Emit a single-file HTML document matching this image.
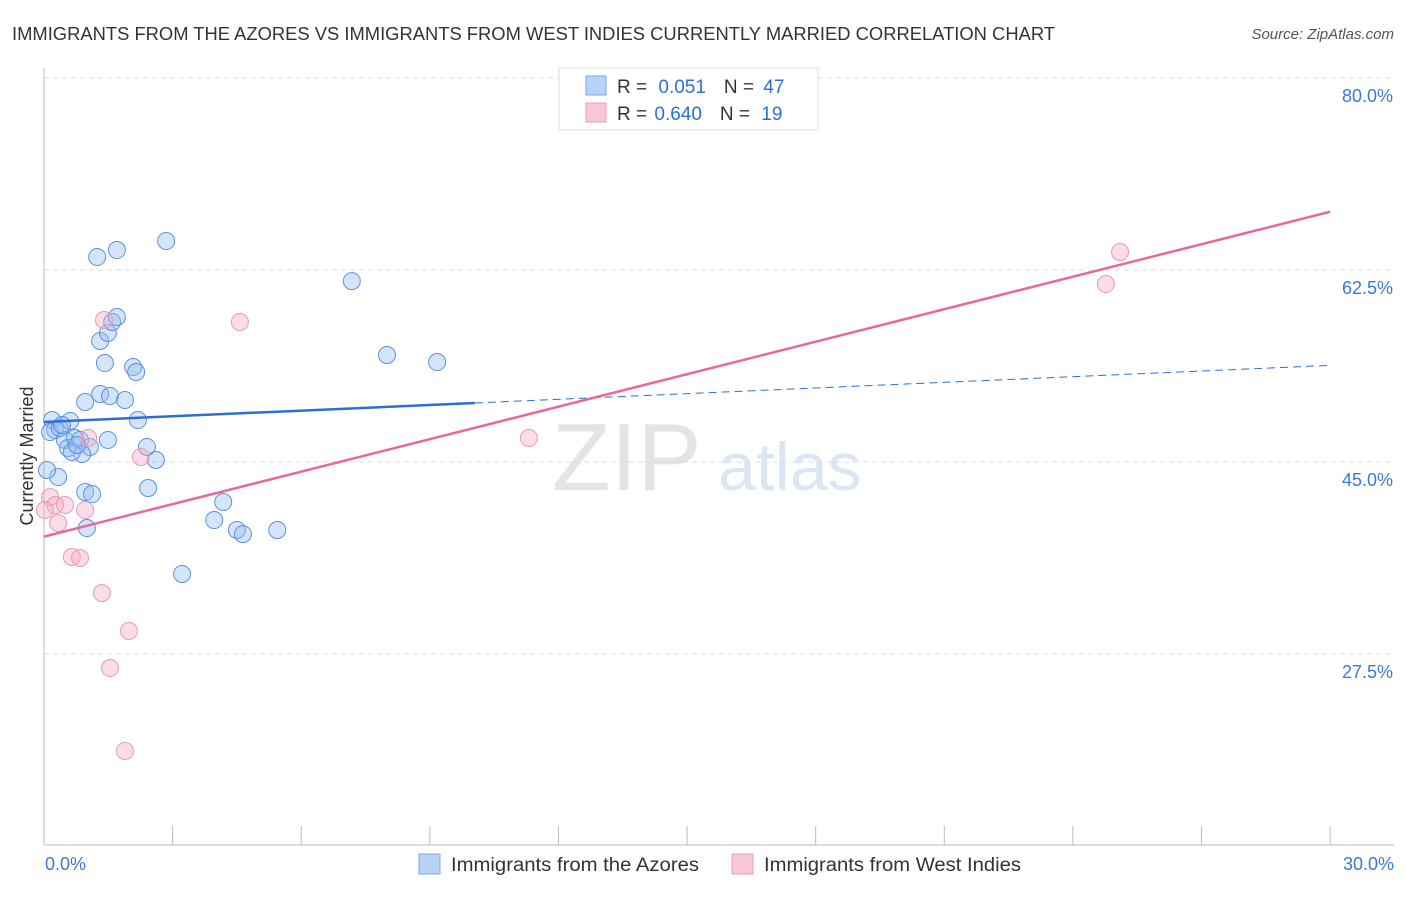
<!DOCTYPE html>
<html><head><meta charset="utf-8"><style>
body{margin:0;background:#fff;font-family:"Liberation Sans",sans-serif;}
svg text{font-family:"Liberation Sans",sans-serif;}
</style></head><body>
<svg id="chart" width="1406" height="892" xmlns="http://www.w3.org/2000/svg">
<text x="12" y="40" font-size="18" fill="#333" textLength="1043" lengthAdjust="spacingAndGlyphs">IMMIGRANTS FROM THE AZORES VS IMMIGRANTS FROM WEST INDIES CURRENTLY MARRIED CORRELATION CHART</text>
<text x="1394" y="39" font-size="15" fill="#555" text-anchor="end" font-style="italic">Source: ZipAtlas.com</text>
<text transform="translate(33,456) rotate(-90)" font-size="18" fill="#333" text-anchor="middle">Currently Married</text>
<text x="552" y="490" font-size="96" fill="#e4e4e4" font-family="Liberation Serif">ZIP</text>
<text x="718" y="490" font-size="68" fill="#dbe6f5">atlas</text>
<g id="grid"></g><g id="axes"></g><g id="pts"></g><g id="trends"></g>
<g>
<rect x="559" y="68" width="259" height="62" fill="#fff" stroke="#ddd"/>
<rect x="586" y="76" width="20" height="19" fill="#b7d2f5" stroke="#7aa8e6"/>
<text x="617" y="93" font-size="19" fill="#333">R = <tspan fill="#2b6fd6" dx="6">0.051</tspan><tspan dx="18">N = </tspan><tspan fill="#2b6fd6" dx="4">47</tspan></text>
<rect x="586" y="103" width="20" height="19" fill="#f9c8d7" stroke="#ec9cb6"/>
<text x="617" y="120" font-size="19" fill="#333">R = <tspan fill="#2b6fd6" dx="2">0.640</tspan><tspan dx="18">N = </tspan><tspan fill="#2b6fd6" dx="6">19</tspan></text>
</g>
<g>
<rect x="419" y="854" width="21" height="20" fill="#b7d2f5" stroke="#7aa8e6"/>
<text x="451" y="871" font-size="19" fill="#333" textLength="248" lengthAdjust="spacingAndGlyphs">Immigrants from the Azores</text>
<rect x="732" y="854" width="21" height="20" fill="#f9c8d7" stroke="#ec9cb6"/>
<text x="764" y="871" font-size="19" fill="#333" textLength="257" lengthAdjust="spacingAndGlyphs">Immigrants from West Indies</text>
</g>
</svg>
<script>
const yTicks=[80,62.5,45,27.5];
const yTickLabels=["80.0%","62.5%","45.0%","27.5%"];
const xTickLabels=["0.0%","30.0%"];
const blueX=[0.19,0.26,0.14,0.37,0.61,0.49,0.56,0.72,0.84,1.07,0.89,0.65,0.96,1.31,1.54,1.89,2.19,1.42,2.08,2.15,1.31,1.49,1.59,1.70,1.24,1.70,2.85,7.18,8.00,9.17,2.40,2.61,2.43,0.96,1.12,0.33,0.07,1.00,4.18,3.97,4.50,4.64,5.44,3.22,1.49,0.77,0.42];
const blueY=[48.83,47.92,47.73,48.10,48.74,47.01,46.28,47.19,47.01,46.37,45.73,45.91,50.47,51.20,51.02,50.65,48.83,54.02,53.66,53.20,56.03,56.76,57.76,58.22,63.69,64.32,65.14,61.49,54.75,54.11,46.37,45.18,42.63,42.27,42.08,43.63,44.27,38.98,41.35,39.71,38.80,38.43,38.80,34.79,47.01,46.55,48.37];
const pinkX=[0.14,0.26,0.33,0.49,0.96,0.65,0.84,1.35,1.98,1.54,1.89,1.40,4.57,1.03,2.26,11.31,25.10,24.77,0.02];
const pinkY=[41.81,41.08,39.44,41.08,40.62,36.34,36.25,33.06,29.60,26.22,18.66,57.94,57.76,47.19,45.46,47.19,64.14,61.22,40.62];
const blueTrend=[48.65,0.172];
const pinkTrend=[38.2,0.987];
const X=v=>44+v*42.87, Y=v=>462-(v-45)*192/17.5;
const NS="http://www.w3.org/2000/svg";
function mk(t,a,p){const e=document.createElementNS(NS,t);for(const k in a)e.setAttribute(k,a[k]);p.appendChild(e);return e;}
const grid=document.getElementById('grid'),axes=document.getElementById('axes'),pts=document.getElementById('pts'),tr=document.getElementById('trends');
yTicks.forEach((v,i)=>{
 const l=mk('line',{x1:44,x2:1394,y1:Y(v),y2:Y(v),stroke:'#ddd','stroke-dasharray':'5,4'},grid);
 
 
 const t=mk('text',{x:1393,y:Y(v)+24,'font-size':18,fill:'#3b78d8','text-anchor':'end'},axes);t.textContent=yTickLabels[i];
 
 
});
mk('line',{x1:44,x2:44,y1:68,y2:845,stroke:'#bbb'},axes);
mk('line',{x1:44,x2:1394,y1:845,y2:845,stroke:'#bbb'},axes);
for(let i=0;i<=10;i++){mk('line',{x1:X(i*3),x2:X(i*3),y1:826,y2:845,stroke:'#bbb'},axes);}
[[0,'start',45],[30,'end',1394]].forEach((d,i)=>{const t=mk('text',{x:d[2],y:870,'font-size':18,fill:'#3b78d8','text-anchor':d[1]},axes);t.textContent=xTickLabels[i];
 
 });
blueX.forEach((x,i)=>{const c=mk('circle',{cx:X(x),cy:Y(blueY[i]),r:8.5,fill:'rgba(150,190,240,0.4)',stroke:'#5a92e0','stroke-width':1},pts);
 
 });
pinkX.forEach((x,i)=>{const c=mk('circle',{cx:X(x),cy:Y(pinkY[i]),r:8.5,fill:'rgba(245,170,195,0.4)',stroke:'#ec98b4','stroke-width':1},pts);
 
 });
const b1=mk('line',{x1:X(0),y1:Y(blueTrend[0]),x2:X(10.05),y2:Y(blueTrend[0]+blueTrend[1]*10.05),stroke:'#2b6fd6','stroke-width':2.5},tr);


const b2=mk('line',{x1:X(10.05),y1:Y(blueTrend[0]+blueTrend[1]*10.05),x2:X(30),y2:Y(blueTrend[0]+blueTrend[1]*30),stroke:'#2b6fd6','stroke-width':1,'stroke-dasharray':'8,5'},tr);


const p1=mk('line',{x1:X(0),y1:Y(pinkTrend[0]),x2:X(30),y2:Y(pinkTrend[0]+pinkTrend[1]*30),stroke:'#e8689a','stroke-width':2.5},tr);


</script>
</body></html>
